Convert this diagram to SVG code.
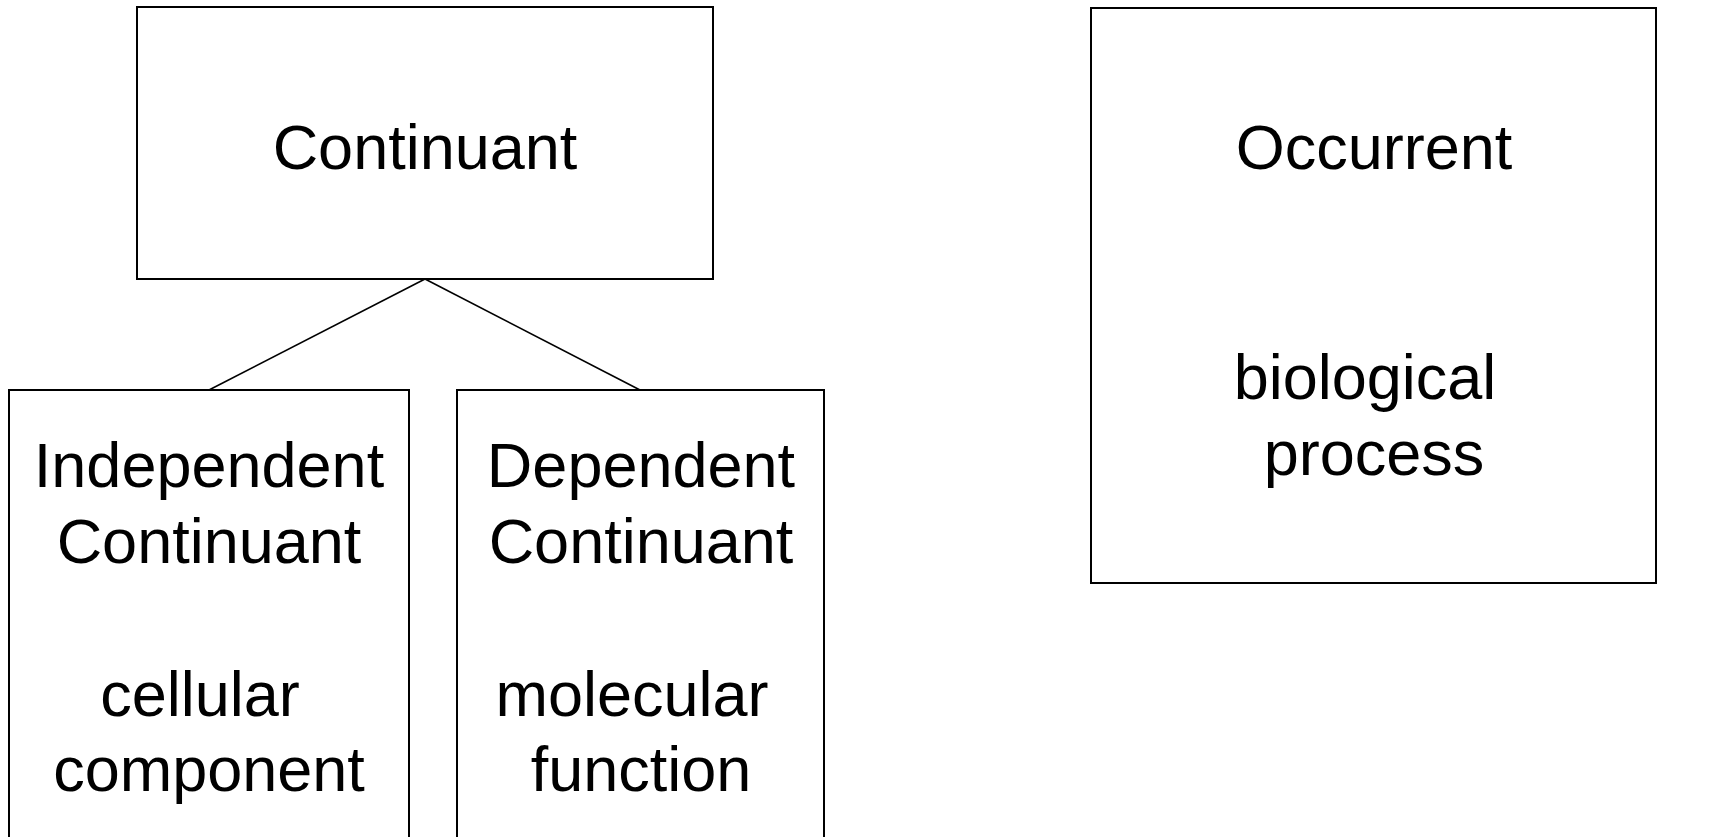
<svg xmlns="http://www.w3.org/2000/svg" width="1728" height="837" viewBox="0 0 1728 837">
  <style>
    .box { fill: #ffffff; stroke: #000000; stroke-width: 2; }
    .edge { stroke: #000000; stroke-width: 1.6; fill: none; }
    .lbl { font-family: "Liberation Sans", Arial, sans-serif; font-size: 63px; fill: #000000; text-anchor: middle; }
  </style>
  <rect width="1728" height="837" fill="#ffffff"/>

  <!-- is_a links from the two continuant subtypes up to Continuant -->
  <g id="connectors">
    <line class="edge" x1="425" y1="279" x2="209" y2="390"/>
    <line class="edge" x1="425" y1="279" x2="640" y2="390"/>
  </g>

  <g id="continuant">
    <rect class="box" x="137" y="7" width="576" height="272"/>
    <text class="lbl" x="425" y="169">Continuant</text>
  </g>

  <g id="independent-continuant">
    <rect class="box" x="9" y="390" width="400" height="460"/>
    <text class="lbl" x="209" y="487">Independent</text>
    <text class="lbl" x="209" y="563">Continuant</text>
    <text class="lbl" x="200" y="716">cellular</text>
    <text class="lbl" x="209" y="791">component</text>
  </g>

  <g id="dependent-continuant">
    <rect class="box" x="457" y="390" width="367" height="460"/>
    <text class="lbl" x="641" y="487">Dependent</text>
    <text class="lbl" x="641" y="563">Continuant</text>
    <text class="lbl" x="632" y="716">molecular</text>
    <text class="lbl" x="641" y="791">function</text>
  </g>

  <g id="occurrent">
    <rect class="box" x="1091" y="8" width="565" height="575"/>
    <text class="lbl" x="1374" y="169">Occurrent</text>
    <text class="lbl" x="1365" y="399">biological</text>
    <text class="lbl" x="1374" y="475">process</text>
  </g>
</svg>
